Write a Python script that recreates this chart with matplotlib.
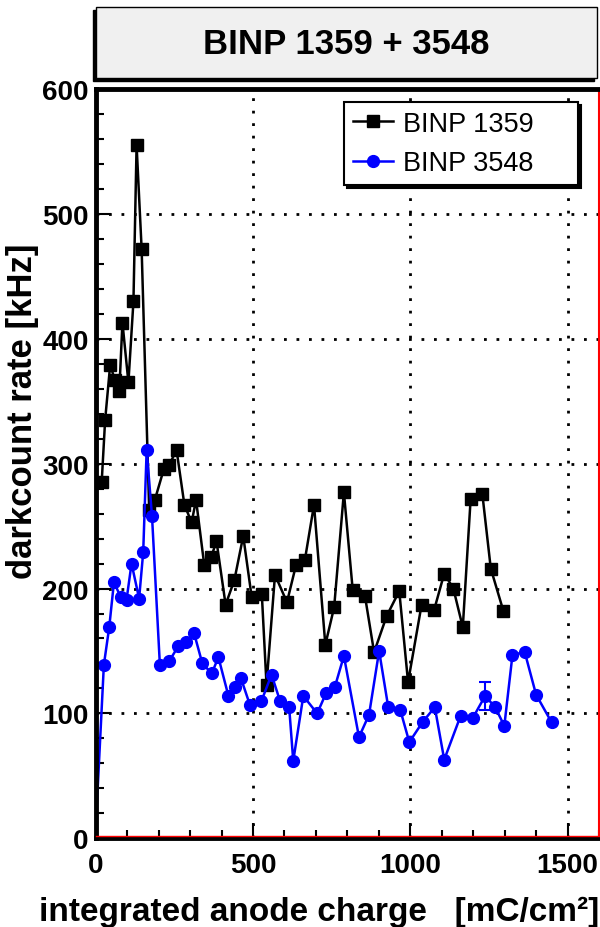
import matplotlib
matplotlib.use("Agg")
import matplotlib.pyplot as plt
from matplotlib.patches import Rectangle
from matplotlib.ticker import MultipleLocator

plt.rcParams["font.family"] = ["Liberation Sans", "DejaVu Sans"]

# integrated anode charge [mC/cm^2] and dark count rate [kHz]
charge_1359 = [19, 30, 46, 61, 75, 85, 104, 120, 130, 146,
               170, 188, 217, 234, 257, 282, 305, 319, 345, 367,
               384, 413, 441, 469, 496, 528, 543, 570, 608, 637,
               665, 694, 730, 758, 789, 817, 856, 885, 925, 965,
               993, 1036, 1076, 1108, 1137, 1167, 1192, 1229, 1256, 1296]
rate_1359 = [285, 335, 379, 367, 358, 413, 365, 430, 555, 472,
             263, 271, 296, 299, 311, 267, 253, 271, 219, 225,
             238, 187, 207, 242, 193, 196, 123, 211, 189, 219,
             223, 267, 155, 185, 277, 199, 194, 149, 178, 198,
             125, 187, 183, 212, 200, 169, 272, 276, 216, 182]

charge_3548 = [0, 26, 43, 58, 80, 98, 114, 138, 151, 162,
               179, 204, 234, 263, 287, 313, 339, 369, 390, 422,
               443, 462, 490, 527, 559, 586, 615, 628, 660, 704,
               732, 760, 789, 837, 869, 901, 930, 968, 997, 1039,
               1078, 1108, 1160, 1198, 1238, 1270, 1299, 1325, 1364, 1400,
               1449]
rate_3548 = [8, 139, 169, 205, 193, 191, 220, 192, 229, 311,
             258, 139, 142, 154, 157, 164, 140, 132, 145, 114,
             121, 128, 107, 110, 131, 110, 105, 62, 114, 100,
             116, 121, 146, 81, 99, 150, 105, 103, 77, 93,
             105, 63, 98, 96, 114, 105, 90, 147, 149, 115,
             93]

# the one visible error bar
err_charge = [1238]
err_rate = [114]
err_size = [11]

W, H = 600, 928
fig = plt.figure(figsize=(W / 100, H / 100), dpi=100)
ax = fig.add_axes([95.7 / W, (H - 839.3) / H, (599 - 95.7) / W, (839.3 - 90) / H])

# title box with shadow
fig.patches.append(Rectangle((93 / W, (H - 82) / H), 501 / W, 71 / H,
                             transform=fig.transFigure, facecolor="black",
                             edgecolor="black", zorder=0))
fig.patches.append(Rectangle((96 / W, (H - 79) / H), 501 / W, 71 / H,
                             transform=fig.transFigure, facecolor="#f0f0f0",
                             edgecolor="black", lw=1, zorder=1))
fig.text(346.5 / W, (H - 44) / H, "BINP 1359 + 3548", ha="center", va="center",
         fontsize=25, fontweight="bold")

ax.plot(charge_1359, rate_1359, color="black", marker="s", ms=8.5, lw=1.8,
        label="BINP 1359")
ax.plot(charge_3548, rate_3548, color="blue", marker="o", ms=8.5, lw=1.8,
        markevery=range(1, len(charge_3548)), label="BINP 3548")
ax.errorbar(err_charge, err_rate, yerr=err_size, fmt="none", ecolor="blue",
            elinewidth=1.5, capsize=4, capthick=1.5)

ax.set_xlim(0, 1600)
ax.set_ylim(0, 600)
ax.xaxis.set_major_locator(MultipleLocator(500))
ax.xaxis.set_minor_locator(MultipleLocator(100))
ax.yaxis.set_major_locator(MultipleLocator(100))
ax.yaxis.set_minor_locator(MultipleLocator(20))
ax.tick_params(which="both", direction="in", top=False, right=False, width=1.5)
ax.tick_params(which="major", length=11, labelsize=20)
ax.tick_params(which="minor", length=6)
ax.tick_params(axis="x", pad=10)
ax.tick_params(axis="y", pad=5)
for lbl in ax.get_xticklabels() + ax.get_yticklabels():
    lbl.set_fontweight("bold")

ax.grid(True, which="major", color="black", linestyle=(0, (1, 3.5)), lw=2)

for side in ["left", "bottom", "top"]:
    ax.spines[side].set_linewidth(3.5)
    ax.spines[side].set_color("black")
ax.spines["right"].set_color("red")
ax.spines["right"].set_linewidth(1.5)
ax.plot([0, 1], [0.003, 0.003], transform=ax.transAxes, color="red", lw=1,
        clip_on=False, zorder=5)

ax.set_xlabel("integrated anode charge   [mC/cm²]", fontsize=24,
              fontweight="bold", ha="right", va="center")
ax.xaxis.set_label_coords(1.0, -0.097)
ax.set_ylabel("darkcount rate [kHz]", fontsize=25, fontweight="bold", va="center")
ax.yaxis.set_label_coords(-0.1445, 0.5716)

leg = ax.legend(loc="upper left", bbox_to_anchor=(0.493, 0.8665, 0.465, 0.1165),
                mode="expand", fontsize=19.5, frameon=True, fancybox=False,
                edgecolor="black", framealpha=1,
                shadow={"facecolor": "black", "edgecolor": "black", "alpha": 1},
                handlelength=1.5, handletextpad=0.37, labelspacing=0.5,
                borderpad=0.33, borderaxespad=0)
leg.get_frame().set_linewidth(1.5)

fig.savefig("out.png", dpi=100)
